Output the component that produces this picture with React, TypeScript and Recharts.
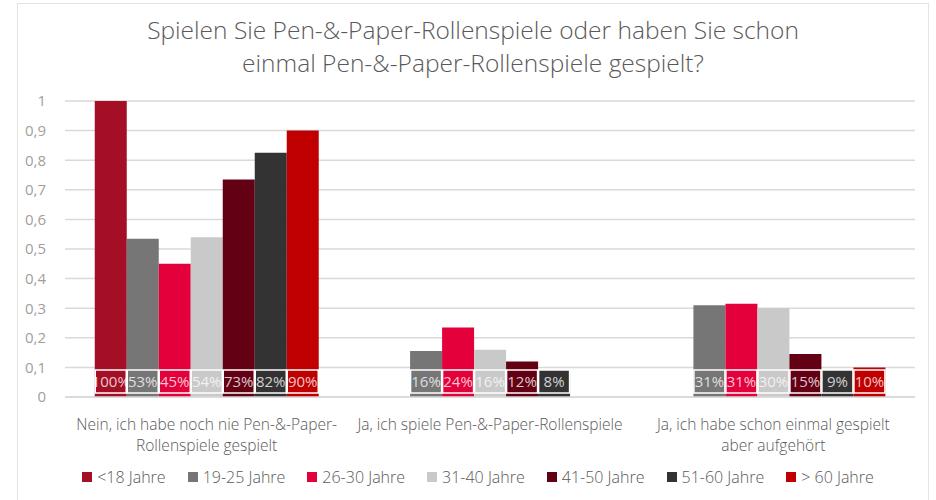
import React from "react";
import { BarChart, Bar, XAxis, YAxis, CartesianGrid, LabelList } from "recharts";

const categories = [
  ["Nein, ich habe noch nie Pen-&-Paper-", "Rollenspiele gespielt"],
  ["Ja, ich spiele Pen-&-Paper-Rollenspiele"],
  ["Ja, ich habe schon einmal gespielt", "aber aufgehört"],
];
const seriesNames = ["<18 Jahre", "19-25 Jahre", "26-30 Jahre", "31-40 Jahre", "41-50 Jahre", "51-60 Jahre", "> 60 Jahre"];
const seriesColors = ["#a50f26", "#767676", "#e4003a", "#c9c9c9", "#640014", "#333333", "#c00000"];
const u18 = [1.0, 0, 0];
const a19 = [0.535, 0.155, 0.31];
const a26 = [0.45, 0.235, 0.315];
const a31 = [0.54, 0.16, 0.3];
const a41 = [0.735, 0.12, 0.145];
const a51 = [0.825, 0.08, 0.09];
const a60 = [0.9, 0, 0.1];
const labels = [
  ["100%", "", ""],
  ["53%", "16%", "31%"],
  ["45%", "24%", "31%"],
  ["54%", "16%", "30%"],
  ["73%", "12%", "15%"],
  ["82%", "8%", "9%"],
  ["90%", "", "10%"],
];
const yTicks = [0, 0.1, 0.2, 0.3, 0.4, 0.5, 0.6, 0.7, 0.8, 0.9, 1];
const title = ["Spielen Sie Pen-&-Paper-Rollenspiele oder haben Sie schon", "einmal Pen-&-Paper-Rollenspiele gespielt?"];

const allSeries = [u18, a19, a26, a31, a41, a51, a60];
const data = categories.map((c, i) => {
  const row: any = { name: i };
  allSeries.forEach((s, k) => {
    row["s" + k] = s[i];
    row["l" + k] = labels[k][i];
  });
  return row;
});

const FONT = "'Open Sans', sans-serif";

const XTick = (props: any) => {
  const { x, y, payload } = props;
  const lines = categories[payload.value] || [];
  return (
    <text x={x} y={y} textAnchor="middle" fill="#595959" fontSize={15.5} fontWeight={300} fontFamily={FONT}>
      {lines.map((l, i) => (
        <tspan key={i} x={x} dy={i === 0 ? 25 : 21}>{l}</tspan>
      ))}
    </text>
  );
};

const makeLabel = (color: string) => (props: any) => {
  const { x, y, width, height, value } = props;
  if (!value) return null;
  const base = y + height;
  const bh = 23;
  const top = base - 4 - bh;
  return (
    <g>
      <rect x={x + 0.5} y={top} width={width - 1} height={bh} fill={color} stroke="#ffffff" strokeWidth={1.5} />
      <text x={x + width / 2} y={top + bh / 2 + 5.5} textAnchor="middle" fill="rgba(255,255,255,0.78)" fontSize={15} fontFamily={FONT}>
        {value}
      </text>
    </g>
  );
};

export default function App() {
  return (
    <div style={{ position: "absolute", left: 0, top: 0, width: 936, height: 500, background: "#fff", fontFamily: FONT, overflow: "hidden" }}>
      <div style={{ position: "absolute", left: 17, top: 3, width: 912, height: 510, border: "1px solid #e3e3e3", boxSizing: "border-box" }} />
      <div style={{ position: "absolute", left: 0, top: 13, width: 946, textAlign: "center", color: "#595959", fontSize: 24.5, fontWeight: 300, lineHeight: "33px" }}>
        <div>{title[0]}</div>
        <div>{title[1]}</div>
      </div>
      <div style={{ position: "absolute", left: 0, top: 0 }}>
        <BarChart width={936} height={500} data={data} margin={{ top: 101, right: 21, left: 0, bottom: 53 }} barCategoryGap="10.5%" barGap={0}>
          <CartesianGrid vertical={false} stroke="#d9d9d9" strokeWidth={1.5} />
          <XAxis dataKey="name" height={50} tick={<XTick />} tickLine={false} axisLine={{ stroke: "#d9d9d9", strokeWidth: 1.5 }} interval={0} />
          <YAxis width={65} domain={[0, 1]} ticks={yTicks} tickLine={false} axisLine={false} tickSize={0} tickMargin={19}
            tick={{ fill: "#a0a0a0", fontSize: 15, fontFamily: FONT }}
            tickFormatter={(v: number) => (v === 0 ? "0" : v === 1 ? "1" : String(v).replace(".", ","))} />
          {seriesNames.map((n, k) => (
            <Bar key={n} dataKey={"s" + k} name={n} fill={seriesColors[k]} isAnimationActive={false}>
              <LabelList dataKey={"l" + k} content={makeLabel(seriesColors[k])} />
            </Bar>
          ))}
        </BarChart>
      </div>
      <div style={{ position: "absolute", left: 0, top: 466, width: 956, display: "flex", justifyContent: "center", gap: 22, color: "#595959", fontSize: 16, fontWeight: 300 }}>
        {seriesNames.map((n, k) => (
          <div key={n} style={{ display: "flex", alignItems: "center" }}>
            <span style={{ display: "inline-block", width: 10, height: 10, background: seriesColors[k], marginRight: 5 }} />
            <span>{n}</span>
          </div>
        ))}
      </div>
    </div>
  );
}
